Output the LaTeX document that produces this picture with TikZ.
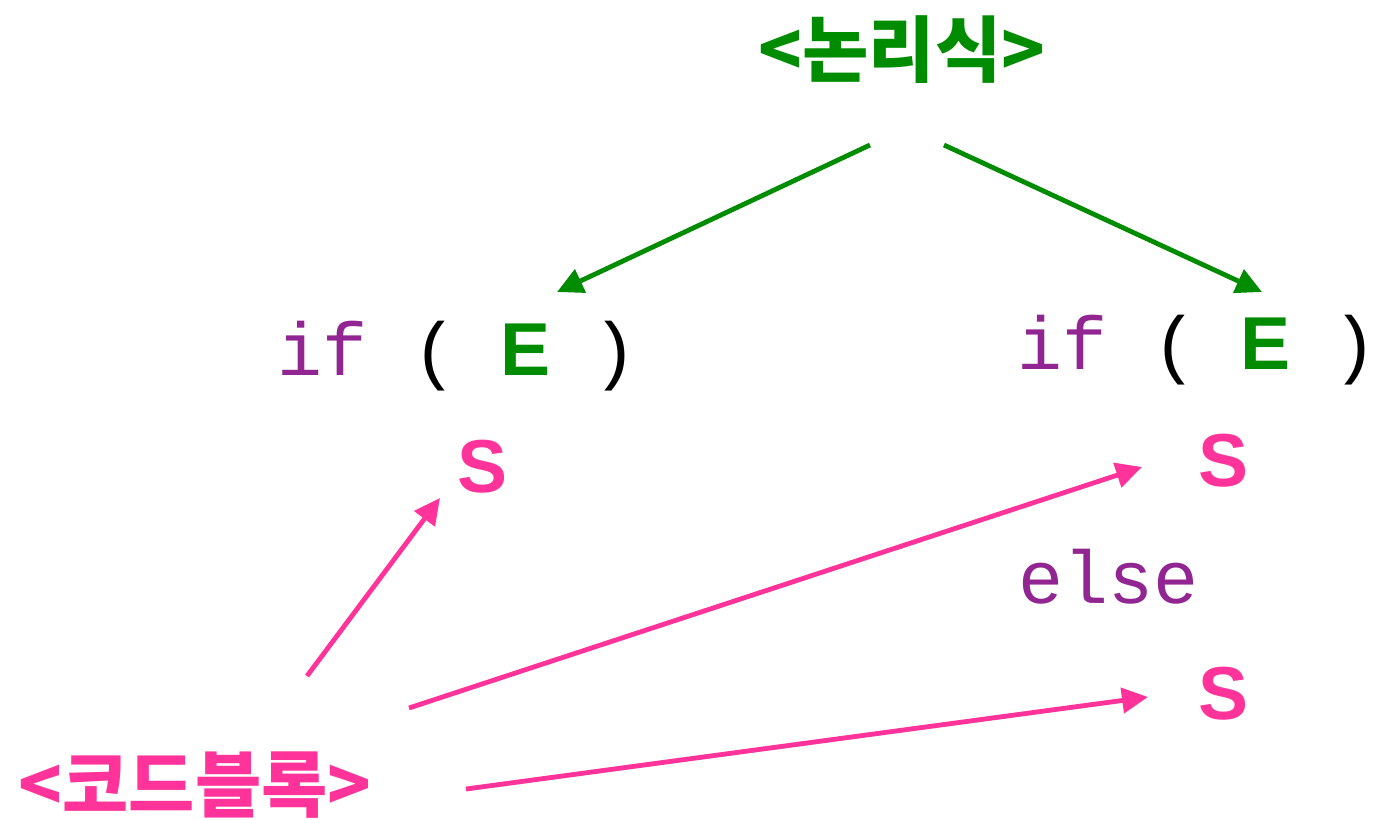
\documentclass[tikz,border=0pt]{standalone}
\usepackage{fontspec}
\setmainfont{Liberation Sans}
\setsansfont{Liberation Sans}
\setmonofont{Liberation Mono}
\newfontfamily\krfont{Noto Sans CJK KR}
\usetikzlibrary{arrows.meta,positioning,calc}
\definecolor{logicGreen}{HTML}{008C00}
\definecolor{codePink}{HTML}{FF3399}
\definecolor{kwPurple}{HTML}{912592}

\begin{document}
\begin{tikzpicture}[
    x=0.5pt, y=-0.5pt,
    label/.style={font=\krfont\bfseries\fontsize{36}{40}\selectfont, inner sep=0pt, anchor=base},
    code/.style={font=\ttfamily\fontsize{37.5}{42}\selectfont, inner sep=0pt, anchor=base},
    stmt/.style={font=\sffamily\bfseries\fontsize{37.5}{42}\selectfont, text=codePink, inner sep=0pt, anchor=base},
    garrow/.style={-{Triangle[length=13pt, width=12.5pt]}, line width=2.4pt, logicGreen},
    parrow/.style={-{Triangle[length=13pt, width=12.5pt]}, line width=2.4pt, codePink}
  ]
    \useasboundingbox (0,0) rectangle (1375,819);
    \newcommand{\condE}{\makebox[0.6em]{\sffamily\bfseries\textcolor{logicGreen}{E}}}

    \node[label, text=logicGreen] (logic) at (902,76) {<논리식>};
    \node[label, text=codePink] (block) at (195,811) {<코드블록>};

    \node[code] (ifL) at (457.5,375) {\textcolor{kwPurple}{if} ( \condE{} )};
    \node[code] (ifR) at (1197.5,369) {\textcolor{kwPurple}{if} ( \condE{} )};
    \node[stmt] (sL) at (483,492) {S};
    \node[stmt] (sR) at (1223,486) {S};
    \node[code, text=kwPurple] (else) at (1108,603) {else};
    \node[stmt] (sE) at (1223,719) {S};

    % arrow ends
    \coordinate (gL) at (870,145);
    \coordinate (gR) at (944,145);
    \coordinate (eL) at (557,292);
    \coordinate (eR) at (1262,292);
    \coordinate (p1) at (307,676);
    \coordinate (p2) at (409,708);
    \coordinate (p3) at (466,789);
    \coordinate (tL) at (440,498);
    \coordinate (tR) at (1142,467);
    \coordinate (tE) at (1148,697);

    \draw[garrow] (gL) -- (eL);
    \draw[garrow] (gR) -- (eR);
    \draw[parrow] (p1) -- (tL);
    \draw[parrow] (p2) -- (tR);
    \draw[parrow] (p3) -- (tE);
  \end{tikzpicture}
\end{document}
